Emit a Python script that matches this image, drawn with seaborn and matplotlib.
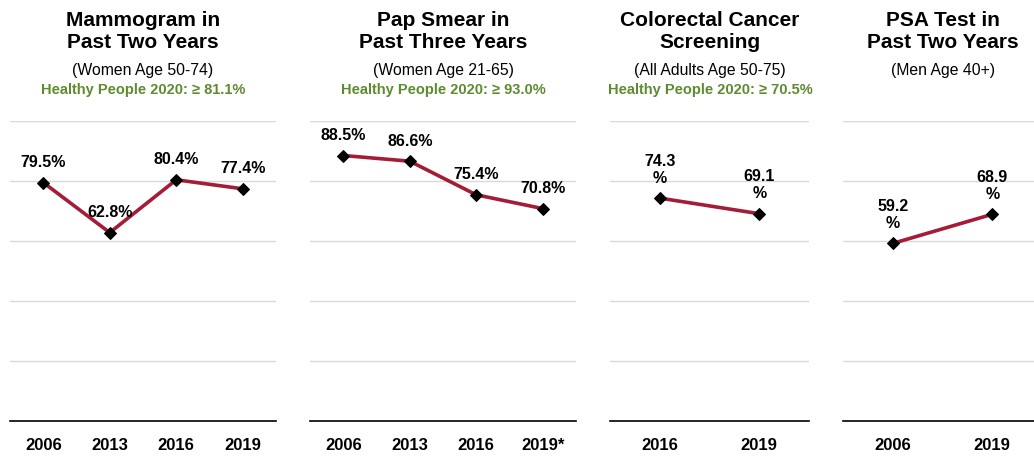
import matplotlib
matplotlib.use("Agg")
import matplotlib.pyplot as plt
from matplotlib import font_manager
import seaborn as sns
import pandas as pd

# Screening rates by survey year
mammo_years = ["2006", "2013", "2016", "2019"]
mammo_rates = [79.5, 62.8, 80.4, 77.4]

pap_years = ["2006", "2013", "2016", "2019*"]
pap_rates = [88.5, 86.6, 75.4, 70.8]

crc_years = ["2016", "2019"]
crc_rates = [74.3, 69.1]

psa_years = ["2006", "2019"]
psa_rates = [59.2, 68.9]

titles = ["Mammogram in\nPast Two Years", "Pap Smear in\nPast Three Years",
          "Colorectal Cancer\nScreening", "PSA Test in\nPast Two Years"]
subtitles = ["(Women Age 50-74)", "(Women Age 21-65)",
             "(All Adults Age 50-75)", "(Men Age 40+)"]
targets = ["Healthy People 2020: \u2265 81.1%", "Healthy People 2020: \u2265 93.0%",
           "Healthy People 2020: \u2265 70.5%", None]
# two-line value labels in the narrower panels
wrap_labels = [False, False, True, True]

sns.set_theme(style="white")

names = {f.name for f in font_manager.fontManager.ttflist}
narrow = "Liberation Sans Narrow" if "Liberation Sans Narrow" in names else "Liberation Sans"
regular = "Liberation Sans" if "Liberation Sans" in names else "DejaVu Sans"
plt.rcParams["font.family"] = [narrow, "DejaVu Sans"]
plt.rcParams["text.color"] = "black"

LINE = "#A51C36"
GREEN = "#5E8B2F"
GRID = "#D9D9D9"

W, H = 1034, 457
fig = plt.figure(figsize=(W / 100, H / 100), dpi=100)

panels = [(mammo_years, mammo_rates), (pap_years, pap_rates),
          (crc_years, crc_rates), (psa_years, psa_rates)]
lefts = [10, 310, 610, 843]
widths = [266, 266, 199, 199]
centers = [143, 443, 710, 943]
ax_bottom, ax_top = 421, 121

for i, (years, rates) in enumerate(panels):
    ax = fig.add_axes([lefts[i] / W, 1 - ax_bottom / H,
                       widths[i] / W, (ax_bottom - ax_top) / H])
    df = pd.DataFrame({"year": years, "rate": rates})
    sns.lineplot(data=df, x="year", y="rate", ax=ax, color=LINE, lw=2.6,
                 marker="D", markersize=6, markerfacecolor="black",
                 markeredgecolor="black", sort=False)
    n = len(years)
    ax.set_xlim(-0.5, n - 0.5)
    ax.set_ylim(0, 100)
    ax.set_yticks([20, 40, 60, 80, 100])
    ax.yaxis.grid(True, color=GRID, lw=1)
    ax.set_axisbelow(True)
    ax.tick_params(axis="y", left=False, labelleft=False)
    ax.tick_params(axis="x", length=0, pad=12)
    ax.set_xticks(range(n))
    ax.set_xticklabels(years, fontsize=12, fontweight="bold", color="black")
    ax.set_xlabel("")
    ax.set_ylabel("")
    for s in ["top", "left", "right"]:
        ax.spines[s].set_visible(False)
    ax.spines["bottom"].set_color("black")
    ax.spines["bottom"].set_linewidth(1.2)

    for x, v in enumerate(rates):
        lab = f"{v:.1f}\n%" if wrap_labels[i] else f"{v:.1f}%"
        ax.annotate(lab, (x, v), xytext=(0, 9), textcoords="offset points",
                    ha="center", va="bottom", fontsize=11.5, fontweight="bold",
                    color="black", linespacing=1.15)

    cx = centers[i] / W
    fig.text(cx, 1 - 31.5 / H, titles[i], ha="center", va="center",
             fontsize=15, fontweight="bold", linespacing=1.25, color="black")
    fig.text(cx, 1 - 70 / H, subtitles[i], ha="center", va="center",
             fontsize=11.3, family=[regular, "DejaVu Sans"], color="black")
    if targets[i]:
        fig.text(cx, 1 - 90 / H, targets[i], ha="center", va="center",
                 fontsize=10.5, fontweight="bold", color=GREEN)

fig.savefig("out.png", dpi=100)
